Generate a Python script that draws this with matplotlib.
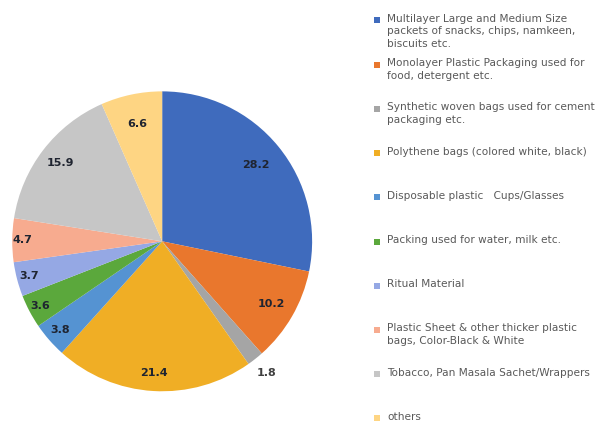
import matplotlib
matplotlib.use('Agg')
import matplotlib.pyplot as plt
from matplotlib.patches import Rectangle
import numpy as np

categories = [
    "Multilayer Large and Medium Size\npackets of snacks, chips, namkeen,\nbiscuits etc.",
    "Monolayer Plastic Packaging used for\nfood, detergent etc.",
    "Synthetic woven bags used for cement\npackaging etc.",
    "Polythene bags (colored white, black)",
    "Disposable plastic   Cups/Glasses",
    "Packing used for water, milk etc.",
    "Ritual Material",
    "Plastic Sheet & other thicker plastic\nbags, Color-Black & White",
    "Tobacco, Pan Masala Sachet/Wrappers",
    "others",
]
shares = [28.2, 10.2, 1.8, 21.4, 3.8, 3.6, 3.7, 4.7, 15.9, 6.6]
value_labels = ["28.2", "10.2", "1.8", "21.4", "3.8", "3.6", "3.7", "4.7", "15.9", "6.6"]

COLORS = ["#3F6BBD", "#E9772D", "#A5A5A5", "#F0AE25", "#5593D2",
          "#5BA83C", "#95A8E4", "#F7AB8F", "#C6C6C6", "#FED583"]
LABEL_R = [0.81, 0.84, 1.12, 0.88, 0.9, 0.92, 0.92, 0.93, 0.86, 0.8]

fig = plt.figure(figsize=(6.09, 4.23), dpi=100)
ax = fig.add_axes([0.02, 0.075, 0.4926, 0.709])

wedges, _ = ax.pie(shares, colors=COLORS, startangle=90, counterclock=False,
                   radius=1.0)
ax.set_xlim(-1, 1)
ax.set_ylim(-1, 1)
ax.set_aspect('equal')
ax.axis('off')

total = float(sum(shares))
angle = 90.0
for val, txt, r in zip(shares, value_labels, LABEL_R):
    mid = np.deg2rad(angle - 360.0 * val / total / 2)
    angle -= 360.0 * val / total
    color = "#404040" if r > 1 else "#1f2430"
    ax.text(r * np.cos(mid), r * np.sin(mid), txt, ha='center', va='center',
            fontsize=8, fontweight='bold', color=color)

# legend, drawn by hand
top = 1 - 20 / 423.0
step = 44.2 / 423.0
for i, (lab, col) in enumerate(zip(categories, COLORS)):
    y = top - i * step
    fig.patches.append(Rectangle((374 / 609.0, y - 3.5 / 423.0), 6 / 609.0, 6 / 423.0,
                                 transform=fig.transFigure, facecolor=col,
                                 edgecolor='none'))
    fig.text(387 / 609.0, y + 6 / 423.0, lab, ha='left', va='top', fontsize=7.6,
             color='#595959', linespacing=1.3, family='DejaVu Sans')

plt.savefig('out.png', dpi=100)
plt.close()
